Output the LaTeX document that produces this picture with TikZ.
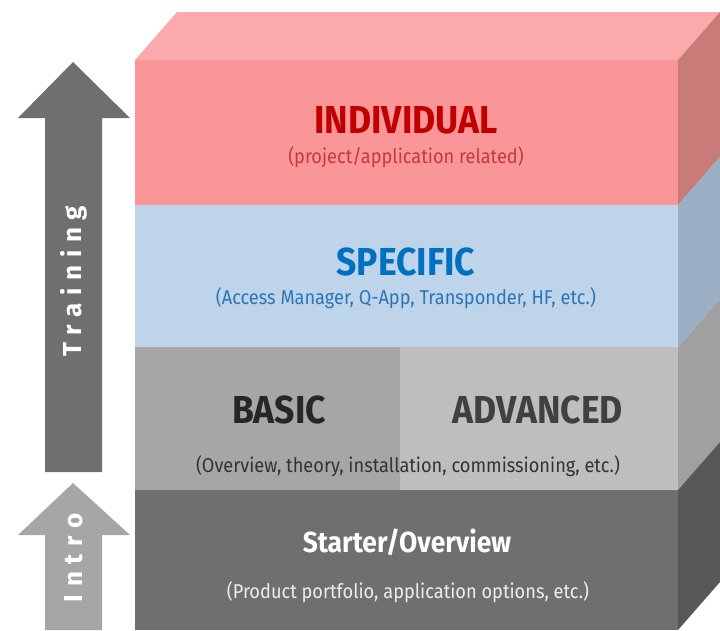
\documentclass[tikz,border=0pt]{standalone}
\usepackage{fontspec}
\usepackage{xcolor}
\usepackage{tikz}
\setmainfont{Fira Sans}
\newfontfamily\narrowfont{Fira Sans}[FakeStretch=0.91]
\newfontfamily\spacedfont{Fira Sans}[LetterSpace=30]

\definecolor{redfront}{HTML}{FA9698}
\definecolor{redtop}{HTML}{FBA9AA}
\definecolor{redside}{HTML}{C97B79}
\definecolor{bluefront}{HTML}{BDD4EA}
\definecolor{blueside}{HTML}{9AAFC3}
\definecolor{basicfront}{HTML}{A6A6A6}
\definecolor{advfront}{HTML}{BEBEBE}
\definecolor{greyside}{HTML}{A0A0A0}
\definecolor{starterfront}{HTML}{6F6F6F}
\definecolor{starterside}{HTML}{585858}
\definecolor{titlered}{HTML}{C00000}
\definecolor{subred}{HTML}{C23B3B}
\definecolor{titleblue}{HTML}{0070C0}
\definecolor{subblue}{HTML}{2E75B6}

\tikzset{
  title/.style={font=\narrowfont\bfseries\fontsize{39}{42}\selectfont,inner sep=0pt},
  subtitle/.style={font=\narrowfont\fontsize{20}{22}\selectfont,inner sep=0pt},
  arrowtext/.style={font=\spacedfont\bfseries\fontsize{26}{28}\selectfont,text=white,rotate=90,inner sep=0pt}
}

\begin{document}
\begin{tikzpicture}[x=1pt,y=-1pt]
\useasboundingbox (0,0) rectangle (720,630);

% top face
\fill[redtop] (135,60) -- (177,12) -- (720,12) -- (678,60) -- cycle;

% front faces
\fill[redfront] (135,60) rectangle (678,205);
\fill[bluefront] (135,205) rectangle (678,347);
\fill[basicfront] (135,347) rectangle (400,490);
\fill[advfront] (400,347) rectangle (678,490);
\fill[starterfront] (135,490) rectangle (678,630);

% side faces
\fill[redside] (678,60) -- (720,12) -- (720,157) -- (678,205) -- cycle;
\fill[blueside] (678,205) -- (720,157) -- (720,299) -- (678,347) -- cycle;
\fill[greyside] (678,347) -- (720,299) -- (720,442) -- (678,490) -- cycle;
\fill[starterside] (678,490) -- (720,442) -- (720,582) -- (678,630) -- cycle;

% arrows
\fill[starterfront] (45,472) -- (45,118) -- (18,118) -- (73,62) -- (130,118) -- (102,118) -- (102,472) -- cycle;
\fill[basicfront] (45,630) -- (45,535) -- (18,535) -- (73,483) -- (130,535) -- (102,535) -- (102,630) -- cycle;
\node[arrowtext] (training) at (74,281) {Training};
\node[arrowtext] (intro) at (74,558) {Intro};

% labels
\node[title,text=titlered] (individual) at (406,120) {INDIVIDUAL};
\node[subtitle,text=subred] (individualsub) at (406,157) {(project/application related)};
\node[title,text=titleblue] (specific) at (406,262) {SPECIFIC};
\node[subtitle,text=subblue] (specificsub) at (406,298) {(Access Manager, Q-App, Transponder, HF, etc.)};
\node[title,text=black!85] (basic) at (279,410) {BASIC};
\node[title,text=black!75] (advanced) at (538,410) {ADVANCED};
\node[subtitle,text=black!80] (basicsub) at (408,466) {(Overview, theory, installation, commissioning, etc.)};
\node[title,text=white,font=\narrowfont\bfseries\fontsize{29}{32}\selectfont] (starter) at (407,542) {Starter/Overview};
\node[subtitle,text=white!93!black] (startersub) at (408,592) {(Product portfolio, application options, etc.)};
\end{tikzpicture}
\end{document}
